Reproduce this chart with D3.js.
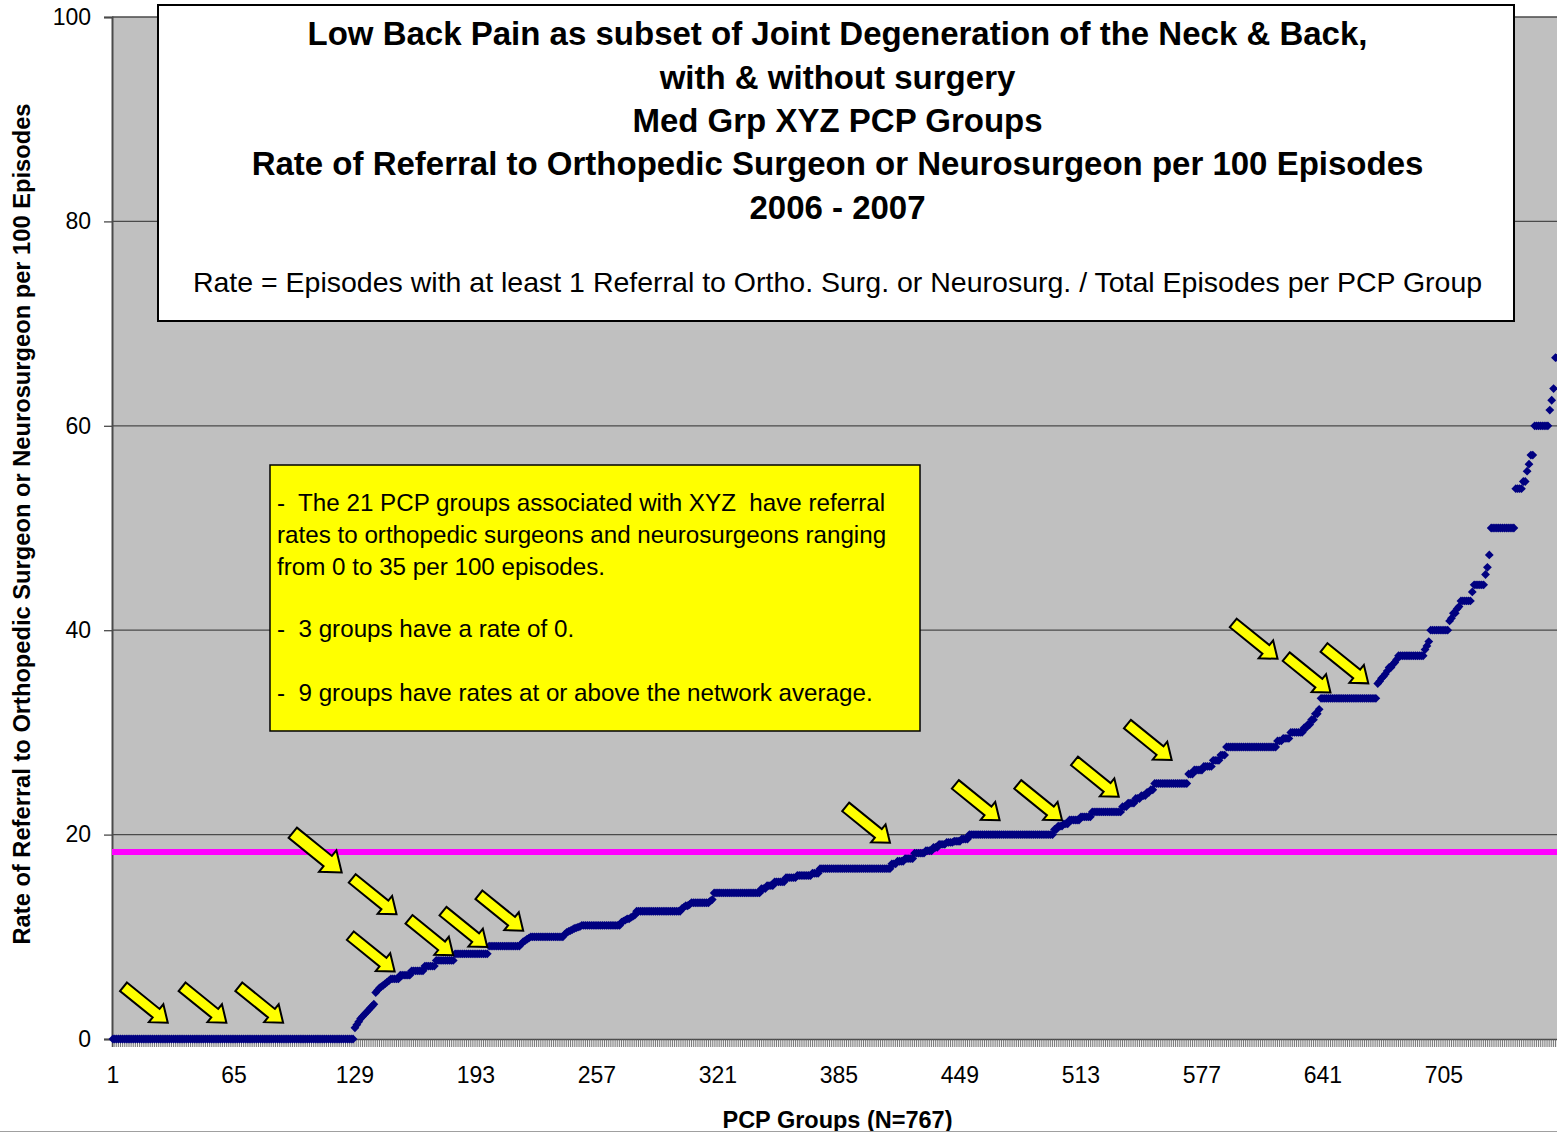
<!DOCTYPE html>
<html>
<head>
<meta charset="utf-8">
<script src="https://cdn.jsdelivr.net/npm/d3@7"></script>
<style>
  html, body { margin: 0; padding: 0; background: #fff; }
  svg { display: block; font-family: "Liberation Sans", Arial, sans-serif; }
</style>
</head>
<body>
<svg id="chart" width="1557" height="1132"></svg>
<script>
// Referral rate per 100 episodes, PCP groups sorted ascending.
// Each rate level is listed with the number of consecutive groups sharing it.
const rateLevels = [
  0,
  1.1, 1.4, 1.7, 2.0, 2.2, 2.4, 2.6, 2.8, 3.0, 3.2, 3.4,
  4.55, 4.76, 5.0, 5.13, 5.26, 5.41, 5.56, 5.71,
  5.88, 6.25, 6.67, 7.14, 7.69, 8.33, 9.09,
  9.3, 9.52, 9.62, 9.76, 9.88,
  10.0,
  10.26, 10.42, 10.53, 10.61, 10.71, 10.81, 10.87, 10.94, 11.0,
  11.11,
  11.43, 11.54, 11.63, 11.76, 11.9, 12.0, 12.12,
  12.5,
  12.77, 12.9, 13.04, 13.16, 13.33, 13.51, 13.64,
  14.29,
  14.71, 15.0, 15.38, 15.79, 16.0, 16.22,
  16.67,
  17.14, 17.39, 17.65,
  18.18, 18.42, 18.75,
  19.05, 19.23, 19.35, 19.57,
  20.0,
  20.51, 20.83, 21.05, 21.43, 21.74,
  22.22,
  22.73, 23.08, 23.53, 23.81, 24.14, 24.39,
  25.0,
  25.93, 26.32, 26.67, 27.27, 27.78,
  28.57,
  29.17, 29.41, 30.0, 30.43, 30.77, 31.25, 31.82, 32.26,
  33.33,
  34.78, 35.0, 35.29, 35.48, 35.71, 36.0, 36.36, 36.67, 36.84, 37.14,
  37.5,
  38.1, 38.46, 38.89,
  40.0,
  40.91, 41.18, 41.67, 42.11, 42.31,
  42.86, 43.75, 44.44, 45.45, 46.15, 47.37,
  50.0,
  53.85, 54.55, 55.56, 56.25, 57.14,
  60.0,
  61.54, 62.5, 63.64, 66.67
];
const groupsAtLevel = [
  128,
  1, 1, 1, 1, 1, 1, 1, 1, 1, 1, 1,
  1, 1, 1, 1, 1, 1, 1, 1,
  5, 6, 7, 6, 10, 18, 17,
  1, 1, 1, 1, 1,
  18,
  1, 1, 1, 1, 1, 1, 1, 1, 1,
  21,
  1, 1, 1, 2, 1, 1, 1,
  24,
  1, 1, 2, 1, 10, 1, 1,
  25,
  3, 4, 6, 6, 8, 4,
  38,
  3, 4, 5,
  6, 4, 3,
  4, 4, 4, 4,
  45,
  2, 3, 3, 6, 6,
  16,
  3, 4, 3, 3, 2, 2,
  18,
  3, 5, 5, 4, 3,
  27,
  3, 4, 7, 2, 2, 2, 2, 1,
  30,
  1, 1, 1, 1, 1, 1, 2, 1, 1, 1,
  14,
  1, 1, 1,
  10,
  1, 1, 2, 1, 1,
  6, 1, 6, 1, 1, 1,
  13,
  4, 2, 1, 1, 2,
  8,
  1, 1, 1, 4
];

const networkAverage = 18.3;
const yTicks = [0, 20, 40, 60, 80, 100];
const xTickLabels = [1, 65, 129, 193, 257, 321, 385, 449, 513, 577, 641, 705];

// Groups highlighted with arrows: [group position, rate at arrow tip]
const highlightGroups = [30, 61, 91, 122, 151, 150, 181, 199, 218, 412, 470, 503, 533, 561, 617, 645, 665];
const highlightRates  = [1.6, 1.6, 1.6, 16.3, 12.2, 6.6, 8.2, 9.0, 10.6, 19.2, 21.4, 21.4, 23.7, 27.3, 37.2, 33.9, 34.8];
const highlightLarge  = [false, false, false, true, false, false, false, false, false, false, false, false, false, false, false, false, false];

const titleLines = [
  "Low Back Pain as subset of Joint Degeneration of the Neck & Back,",
  "with & without surgery",
  "Med Grp XYZ PCP Groups",
  "Rate of Referral to Orthopedic Surgeon or Neurosurgeon per 100 Episodes",
  "2006 - 2007"
];
const subtitle = "Rate = Episodes with at least 1 Referral to Ortho. Surg. or Neurosurg. / Total Episodes per PCP Group";
const noteLines = [
  "-  The 21 PCP groups associated with XYZ  have referral",
  "rates to orthopedic surgeons and neurosurgeons ranging",
  "from 0 to 35 per 100 episodes.",
  "-  3 groups have a rate of 0.",
  "-  9 groups have rates at or above the network average."
];

// expand levels into one rate per group
const rates = [];
rateLevels.forEach((r, i) => { for (let k = 0; k < groupsAtLevel[i]; k++) rates.push(r); });
const groups = d3.range(1, rates.length + 1);

const svg = d3.select("#chart");
const plot = { left: 112, top: 17, bottom: 1039, step: 1.8906 };

const x = d3.scaleBand().domain(groups)
  .range([plot.left, plot.left + groups.length * plot.step]).padding(0);
const xc = g => x(g) + x.bandwidth() / 2;
const xLin = d3.scaleLinear().domain([1, groups.length]).range([xc(1), xc(groups.length)]);
const y = d3.scaleLinear().domain([0, 100]).range([plot.bottom, plot.top]);

// plot background
svg.append("rect")
  .attr("x", plot.left).attr("y", plot.top)
  .attr("width", x.range()[1] - plot.left).attr("height", plot.bottom - plot.top)
  .attr("fill", "#c0c0c0");

// gridlines
svg.append("g").selectAll("line").data(yTicks.filter(t => t > 0)).join("line")
  .attr("x1", plot.left).attr("x2", x.range()[1])
  .attr("y1", d => y(d)).attr("y2", d => y(d))
  .attr("stroke", "#4a4a4a").attr("stroke-width", 1.3);

// y axis
const yAxis = svg.append("g").attr("transform", `translate(${plot.left},0)`)
  .call(d3.axisLeft(y).tickValues(yTicks).tickSize(8).tickPadding(13));
yAxis.select(".domain").attr("stroke", "#4a4a4a").attr("stroke-width", 2);
yAxis.selectAll(".tick line").attr("stroke", "#4a4a4a").attr("stroke-width", 1.3);
yAxis.selectAll("text").attr("font-size", 23).attr("fill", "#000")
  .attr("font-family", "Liberation Sans, Arial, sans-serif");

// x axis: a tick for every group
const xAxis = svg.append("g").attr("transform", `translate(0,${plot.bottom})`)
  .call(d3.axisBottom(x).tickValues(groups).tickSize(8).tickFormat(""));
xAxis.select(".domain").attr("stroke", "#4a4a4a").attr("stroke-width", 1.5);
xAxis.selectAll(".tick line").attr("stroke", "#555").attr("stroke-width", 0.8);

const xLabels = svg.append("g").attr("transform", `translate(0,${plot.bottom})`)
  .call(d3.axisBottom(x).tickValues(xTickLabels).tickSize(0).tickPadding(28));
xLabels.select(".domain").remove();
xLabels.selectAll("text").attr("font-size", 23).attr("fill", "#000")
  .attr("font-family", "Liberation Sans, Arial, sans-serif");

// network average
svg.append("line")
  .attr("x1", plot.left).attr("x2", x.range()[1])
  .attr("y1", y(networkAverage)).attr("y2", y(networkAverage))
  .attr("stroke", "#ff00ff").attr("stroke-width", 6);

// group rates as diamond markers
const dm = 4.4;
svg.append("g").selectAll("path").data(groups).join("path")
  .attr("d", `M0,${-dm}L${dm},0L0,${dm}L${-dm},0Z`)
  .attr("transform", g => `translate(${xc(g)},${y(rates[g - 1])})`)
  .attr("fill", "#000080");

// block arrows pointing at highlighted groups
function arrowPath(big) {
  const s = big ? 1.2 : 1;
  const L = big ? 63 : 57, sw = 11 * s, hl = 15 * s, hw = 23 * s;
  return `M${-L},${-sw / 2}L${-hl},${-sw / 2}L${-hl},${-hw / 2}L0,0L${-hl},${hw / 2}L${-hl},${sw / 2}L${-L},${sw / 2}Z`;
}
svg.append("g").selectAll("path").data(highlightGroups).join("path")
  .attr("d", (g, i) => arrowPath(highlightLarge[i]))
  .attr("transform", (g, i) => `translate(${xLin(g)},${y(highlightRates[i])}) rotate(39)`)
  .attr("fill", "#ffff00").attr("stroke", "#000").attr("stroke-width", 2)
  .attr("stroke-linejoin", "miter");

// title box
svg.append("rect").attr("x", 158).attr("y", 5).attr("width", 1356).attr("height", 316)
  .attr("fill", "#fff").attr("stroke", "#000").attr("stroke-width", 2);
const titleY = [33, 77, 120, 163, 207];
svg.append("g").selectAll("text").data(titleLines).join("text")
  .attr("x", 837.5).attr("y", (d, i) => titleY[i]).attr("dy", "0.35em")
  .attr("text-anchor", "middle").attr("font-size", 33).attr("font-weight", "bold")
  .text(d => d);
svg.append("text").attr("x", 837.5).attr("y", 282).attr("dy", "0.35em")
  .attr("text-anchor", "middle").attr("font-size", 28.5)
  .text(subtitle);

// note box
svg.append("rect").attr("x", 270).attr("y", 465).attr("width", 650).attr("height", 266)
  .attr("fill", "#ffff00").attr("stroke", "#000").attr("stroke-width", 1.5);
const noteY = [503, 535, 567, 629, 693];
svg.append("g").selectAll("text").data(noteLines).join("text")
  .attr("x", 277).attr("y", (d, i) => noteY[i]).attr("dy", "0.35em")
  .attr("font-size", 24.2)
  .attr("xml:space", "preserve").style("white-space", "pre")
  .text(d => d);

// axis titles
svg.append("text")
  .attr("transform", "translate(22,524) rotate(-90)")
  .attr("dy", "0.35em").attr("text-anchor", "middle")
  .attr("font-size", 23.7).attr("font-weight", "bold")
  .text("Rate of Referral to Orthopedic Surgeon or Neurosurgeon per 100 Episodes");
svg.append("text")
  .attr("x", 837.5).attr("y", 1120).attr("dy", "0.35em").attr("text-anchor", "middle")
  .attr("font-size", 23.5).attr("font-weight", "bold")
  .text("PCP Groups (N=767)");

// chart area edge
svg.append("line").attr("x1", 0).attr("x2", 1557).attr("y1", 1131.5).attr("y2", 1131.5)
  .attr("stroke", "#a0a0a0").attr("stroke-width", 1);
</script>
</body>
</html>
